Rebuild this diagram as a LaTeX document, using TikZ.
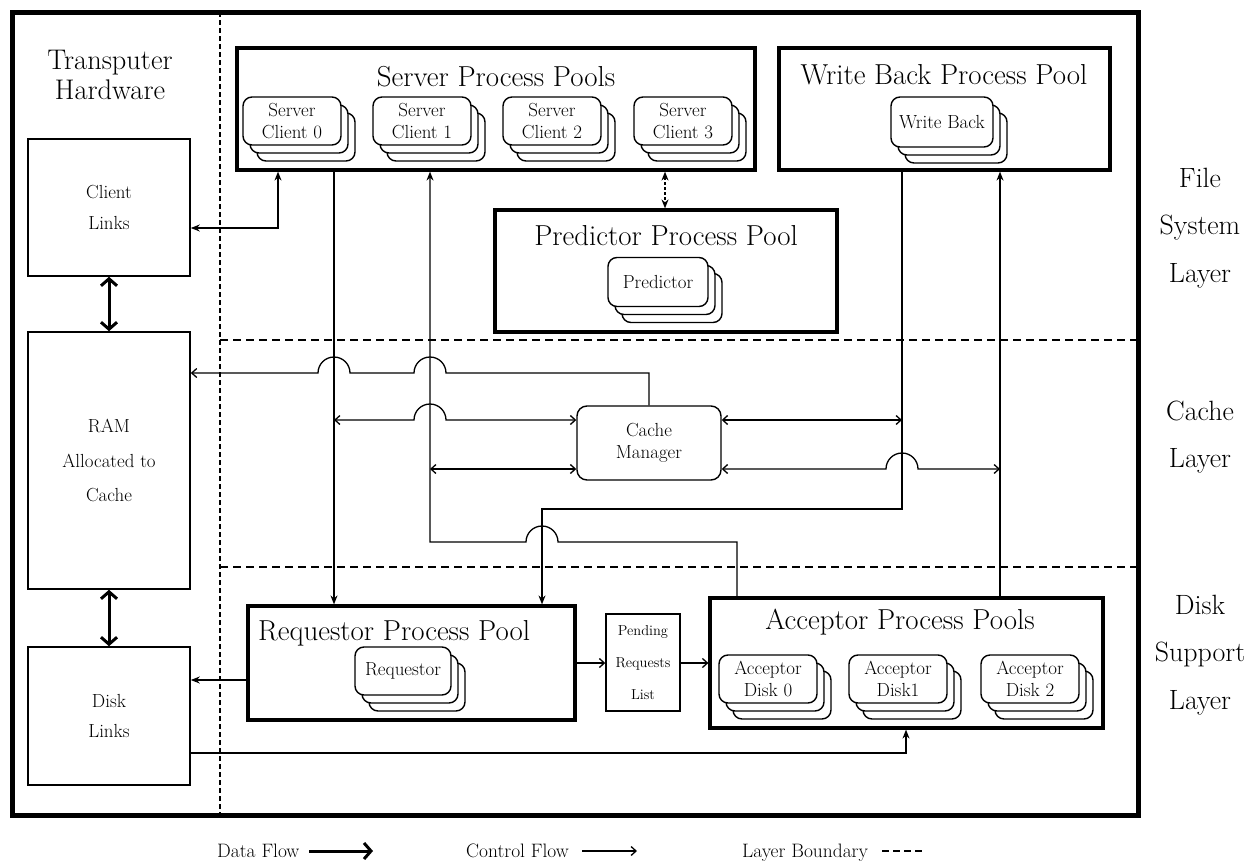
\documentclass[tikz,border=0pt]{standalone}
\usepackage{fontspec}
\usetikzlibrary{arrows.meta,shadows}

% type sizes used in the drawing
\newcommand\FtTitle{\fontsize{29}{32}\selectfont}
\newcommand\FtSide{\fontsize{28.5}{30}\selectfont}
\newcommand\FtLayer{\fontsize{28}{48}\selectfont}
\newcommand\FtProc{\fontsize{19}{22}\selectfont}
\newcommand\FtLink{\fontsize{19}{31}\selectfont}
\newcommand\FtRam{\fontsize{19}{35}\selectfont}
\newcommand\FtPend{\fontsize{14.5}{32}\selectfont}
\newcommand\FtLeg{\fontsize{19.5}{22}\selectfont}

\begin{document}
\begin{tikzpicture}[x=1bp,y=-1bp,
  Fil/.tip={Stealth[length=9bp,width=7bp]},
  Brb/.tip={Straight Barb[length=5bp,width=9bp]},
  Dat/.tip={Straight Barb[length=7bp,width=16bp]},
  poolbox/.style={draw, line width=3.2bp, inner sep=0pt},
  linkbox/.style={draw, line width=1.6bp, inner sep=0pt, align=center, font=\FtLink, minimum width=162bp},
  procbox/.style={draw, line width=1.4bp, rounded corners=9bp, fill=white, inner sep=0pt,
    align=center, font=\FtProc, minimum width=98bp, minimum height=48bp,
    copy shadow={shadow xshift=14bp, shadow yshift=-16bp, draw, fill=white},
    copy shadow={shadow xshift=7bp, shadow yshift=-8bp, draw, fill=white}},
  pooltitle/.style={font=\FtTitle, inner sep=0pt},
  layerlabel/.style={font=\FtLayer, align=center, inner sep=0pt},
  legtext/.style={font=\FtLeg, anchor=base west, inner sep=0pt},
  flow/.style={line width=1.3bp},
  dataflow/.style={line width=3bp},
  bound/.style={line width=1.8bp, dash pattern=on 8bp off 5bp},
  vbound/.style={line width=1.8bp, dash pattern=on 5bp off 3bp},
]
\useasboundingbox (0,0) rectangle (1258,863);

% outer frame and layer boundaries
\draw[line width=5bp] (12,12) rectangle (1138,815);
\draw[vbound] (220,12) -- (220,815);
\draw[bound] (220,340) -- (1138,340);
\draw[bound] (220,567) -- (1138,567);

% layer names
\node[layerlabel] (lyF) at (1200,228) {File\\System\\Layer};
\node[layerlabel] (lyC) at (1200,437) {Cache\\Layer};
\node[layerlabel] (lyD) at (1200,655) {Disk\\Support\\Layer};

% transputer hardware column
\node[font=\FtSide, align=center, inner sep=0pt] (hw) at (110,75) {Transputer\\Hardware};
\node[linkbox, minimum height=137bp] (cl) at (109,207.5) {Client\\Links};
\node[linkbox, minimum height=257bp, font=\FtRam] (ram) at (109,460.5) {RAM\\Allocated to\\Cache};
\node[linkbox, minimum height=138bp] (dl) at (109,716) {Disk\\Links};

% server process pools
\node[poolbox, minimum width=518bp, minimum height=122bp] (srv) at (496,109) {};
\node[pooltitle] (srvT) at (496,77) {Server Process Pools};
\node[procbox] (sc0) at (292,121) {Server\\Client 0};
\node[procbox] (sc1) at (422,121) {Server\\Client 1};
\node[procbox] (sc2) at (552,121) {Server\\Client 2};
\node[procbox] (sc3) at (683,121) {Server\\Client 3};

% write back process pool
\node[poolbox, minimum width=331bp, minimum height=122bp] (wb) at (944.5,109) {};
\node[pooltitle] (wbT) at (944,75) {Write Back Process Pool};
\node[procbox, minimum width=102bp, minimum height=50bp] (wbp) at (942,122) {Write Back};

% predictor process pool
\node[poolbox, minimum width=342bp, minimum height=122bp] (pp) at (666,271) {};
\node[pooltitle] (ppT) at (666,236) {Predictor Process Pool};
\node[procbox, minimum width=100bp, minimum height=49bp] (prd) at (658,282) {Predictor};

% cache manager
\node[draw, line width=1.4bp, rounded corners=10bp, minimum width=144bp, minimum height=74bp,
  align=center, font=\FtProc, inner sep=0pt] (cm) at (649,443) {Cache\\Manager};

% requestor process pool and pending list
\node[poolbox, minimum width=327bp, minimum height=114bp] (rq) at (411.5,663) {};
\node[pooltitle, anchor=west] (rqT) at (258,633) {Requestor Process Pool};
\node[procbox, minimum width=96bp] (rqp) at (403,671) {Requestor};
\node[draw, line width=1.4bp, minimum width=74bp, minimum height=97bp, align=center,
  font=\FtPend, inner sep=0pt] (pl) at (643,662.5) {Pending\\Requests\\List};

% acceptor process pools
\node[poolbox, minimum width=393bp, minimum height=130bp] (ap) at (906.5,663) {};
\node[pooltitle] (apT) at (900,622) {Acceptor Process Pools};
\node[procbox] (ad0) at (768,679) {Acceptor\\Disk 0};
\node[procbox] (ad1) at (898,679) {Acceptor\\Disk1};
\node[procbox] (ad2) at (1030,679) {Acceptor\\Disk 2};

% routing columns and rows
\coordinate (x278) at (278,228);
\coordinate (x334) at (334,0);
\coordinate (x430) at (430,0);
\coordinate (x542) at (542,0);
\coordinate (x665) at (665,0);
\coordinate (x737) at (737,0);
\coordinate (x902) at (902,0);
\coordinate (x906) at (906,0);
\coordinate (x1000) at (1000,0);
\coordinate (y373) at (0,373);
\coordinate (y420) at (0,420);
\coordinate (y469) at (0,469);
\coordinate (y509) at (0,509);
\coordinate (y542) at (0,542);
\coordinate (y663) at (0,663);
\coordinate (y680) at (0,680);
\coordinate (y753) at (0,753);

% hardware links
\draw[dataflow, Dat-Dat] (cl.south) -- (ram.north);
\draw[dataflow, Dat-Dat] (ram.south) -- (dl.north);
\draw[flow, Fil-Fil] (srv.south -| x278) |- (cl.east |- x278);

% file system layer to disk layer
\draw[flow, -Fil] (srv.south -| x334) -- (rq.north -| x334);
\draw[flow, dash pattern=on 3bp off 2bp, Fil-Fil] (srv.south -| x665) -- (pp.north -| x665);

% cache manager links
\draw[flow, -Brb] (cm.north) -- (cm.north |- y373) -- (446,373)
  arc[start angle=0, end angle=180, radius=16bp] -- (350,373)
  arc[start angle=0, end angle=180, radius=16bp] -- (ram.east |- y373);
\draw[flow, Brb-Brb] (x334 |- y420) -- (414,420)
  arc[start angle=180, end angle=0, radius=16bp] -- (cm.west |- y420);
\draw[flow, Brb-Brb] (x430 |- y469) -- (cm.west |- y469);
\draw[flow, Brb-Brb] (cm.east |- y420) -- (x902 |- y420);
\draw[flow, Brb-Brb] (cm.east |- y469) -- (886,469)
  arc[start angle=180, end angle=0, radius=16bp] -- (x1000 |- y469);

% write back and acceptor paths
\draw[flow, -Fil] (wb.south -| x902) -- (x902 |- y509) -- (x542 |- y509) -- (rq.north -| x542);
\draw[flow, -Fil] (ap.north -| x737) -- (x737 |- y542) -- (558,542)
  arc[start angle=0, end angle=180, radius=16bp] -- (x430 |- y542) -- (srv.south -| x430);
\draw[flow, -Fil] (ap.north -| x1000) -- (wb.south -| x1000);

% disk support layer
\draw[line width=2bp, -Fil] (rq.west |- y680) -- (dl.east |- y680);
\draw[flow, -Brb] (rq.east |- y663) -- (pl.west |- y663);
\draw[flow, -Brb] (pl.east |- y663) -- (ap.west |- y663);
\draw[flow, -Fil] (dl.east |- y753) -- (x906 |- y753) -- (ap.south -| x906);

% legend
\node[legtext] (lgD) at (217,857) {Data Flow};
\coordinate (lgD1) at (309,851);
\coordinate (lgD2) at (373,851);
\draw[dataflow, -Dat] (lgD1) -- (lgD2);
\node[legtext] (lgC) at (466,857) {Control Flow};
\coordinate (lgC1) at (582,851);
\coordinate (lgC2) at (637,851);
\draw[flow, -Brb] (lgC1) -- (lgC2);
\node[legtext] (lgL) at (742,857) {Layer Boundary};
\coordinate (lgL1) at (882,851);
\coordinate (lgL2) at (922,851);
\draw[line width=1.8bp, dash pattern=on 7bp off 4bp] (lgL1) -- (lgL2);
\end{tikzpicture}
\end{document}
